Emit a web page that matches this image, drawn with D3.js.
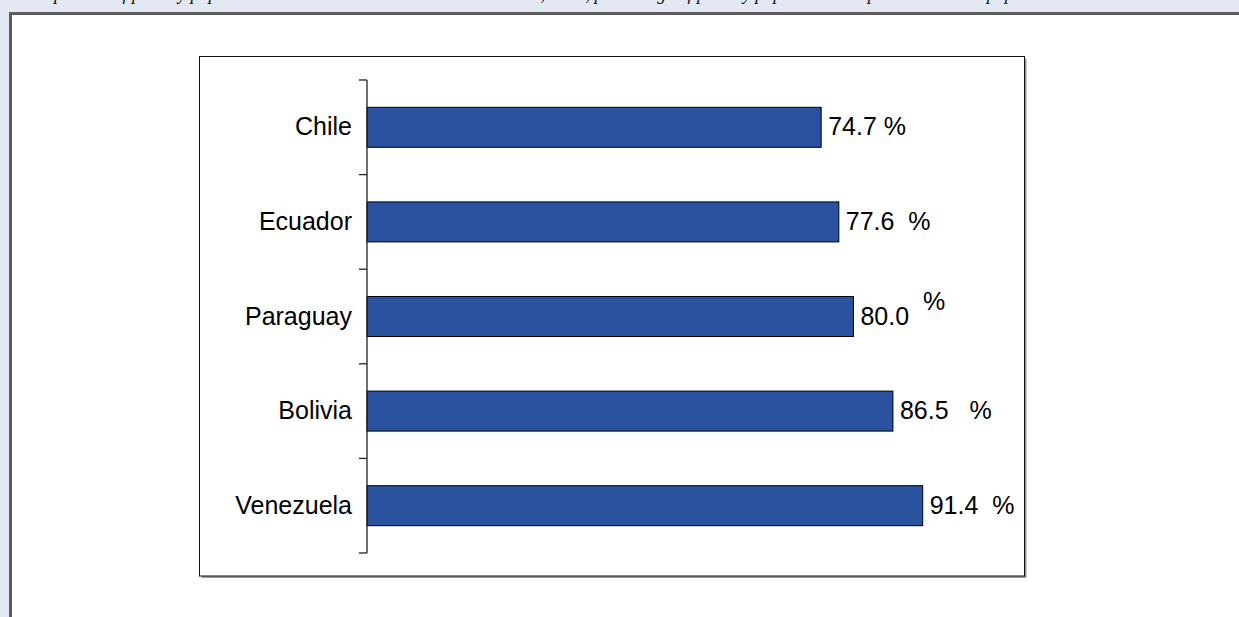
<!DOCTYPE html>
<html>
<head>
<meta charset="utf-8">
<script src="https://cdn.jsdelivr.net/npm/d3@7"></script>
<style>
  html, body { margin: 0; padding: 0; background: #e4e8f3; overflow: hidden; }
  text { white-space: pre; }
</style>
</head>
<body>
<div id="drawing"></div>
<script>
'use strict';

// data
const countries = ['Chile', 'Ecuador', 'Paraguay', 'Bolivia', 'Venezuela'];
const shares    = [74.7, 77.6, 80.0, 86.5, 91.4];
const pctText   = [' %', '  %', '  %', '   %', '  %'];
// the % sign of Paraguay sits higher in the original
const pctLift   = [0, 0, -15, 0, 0];

const caption = 'Comparison of poverty population in selected South American countries, 2006, ' +
                'percentage of poverty population compared with total population';

const W = 1239, H = 617;

const svg = d3.select('#drawing')
  .append('svg')
  .attr('width', W)
  .attr('height', H)
  .style('display', 'block');

// caption line, scrolled mostly out of view in the original
svg.append('text')
  .text(caption)
  .attr('x', 20)
  .attr('y', -0.5)
  .style('font-family', 'Liberation Serif, Times New Roman, serif')
  .style('font-style', 'italic')
  .style('font-size', '18px')
  .style('fill', '#111');

// outer white panel, runs off the right and bottom edges
svg.append('rect')
  .attr('x', 10.5).attr('y', 13.5)
  .attr('width', W + 20).attr('height', H + 20)
  .style('fill', 'white')
  .style('stroke', '#5c5c5c')
  .style('stroke-width', 3);

// chart frame with its small shadow
const frame = {x: 199.5, y: 56.5, w: 825, h: 519.5};
svg.append('rect')
  .attr('x', frame.x + 2).attr('y', frame.y + 2)
  .attr('width', frame.w).attr('height', frame.h)
  .style('fill', '#9a9a9a');
svg.append('rect')
  .attr('x', frame.x).attr('y', frame.y)
  .attr('width', frame.w).attr('height', frame.h)
  .style('fill', 'white')
  .style('stroke', '#111')
  .style('stroke-width', 1);

const x = d3.scaleLinear().domain([0, 100]).range([367, 975]);
const y = d3.scaleBand().domain(countries).range([80, 553]).padding(0);
const barH = 40;
const barY = d => y(d) + (y.bandwidth() - barH) / 2;

const rows = countries.map((c, i) => ({name: c, value: shares[i], pct: pctText[i], lift: pctLift[i]}));

// bars
svg.append('g').selectAll('rect')
  .data(rows)
  .enter()
  .append('rect')
  .attr('x', x(0))
  .attr('y', d => barY(d.name))
  .attr('width', d => x(d.value) - x(0))
  .attr('height', barH)
  .style('fill', '#2a529f')
  .style('stroke', '#000')
  .style('stroke-width', 1);

// category axis: line plus ticks on band boundaries
const axis = svg.append('g');
axis.append('line')
  .attr('x1', x(0)).attr('x2', x(0))
  .attr('y1', y.range()[0]).attr('y2', y.range()[1])
  .style('stroke', '#222')
  .style('stroke-width', 1.3);
const bounds = countries.map(c => y(c)).concat([y.range()[1]]);
axis.selectAll('line.tick')
  .data(bounds)
  .enter()
  .append('line')
  .attr('class', 'tick')
  .attr('x1', x(0) - 8).attr('x2', x(0))
  .attr('y1', d => d).attr('y2', d => d)
  .style('stroke', '#222')
  .style('stroke-width', 1.3);

axis.selectAll('text')
  .data(rows)
  .enter()
  .append('text')
  .text(d => d.name)
  .attr('x', x(0) - 15)
  .attr('y', d => y(d.name) + y.bandwidth() / 2 + 8)
  .attr('text-anchor', 'end')
  .style('font-family', 'Liberation Sans, Arial, sans-serif')
  .style('font-size', '25px')
  .style('fill', '#000');

// value labels
const labels = svg.append('g').selectAll('text')
  .data(rows)
  .enter()
  .append('text')
  .attr('x', d => x(d.value) + 7)
  .attr('y', d => y(d.name) + y.bandwidth() / 2 + 8)
  .style('font-family', 'Liberation Sans, Arial, sans-serif')
  .style('font-size', '25px')
  .style('fill', '#000');
labels.append('tspan').text(d => d.value.toFixed(1));
labels.append('tspan').text(d => d.pct).attr('dy', d => d.lift);
</script>
</body>
</html>
